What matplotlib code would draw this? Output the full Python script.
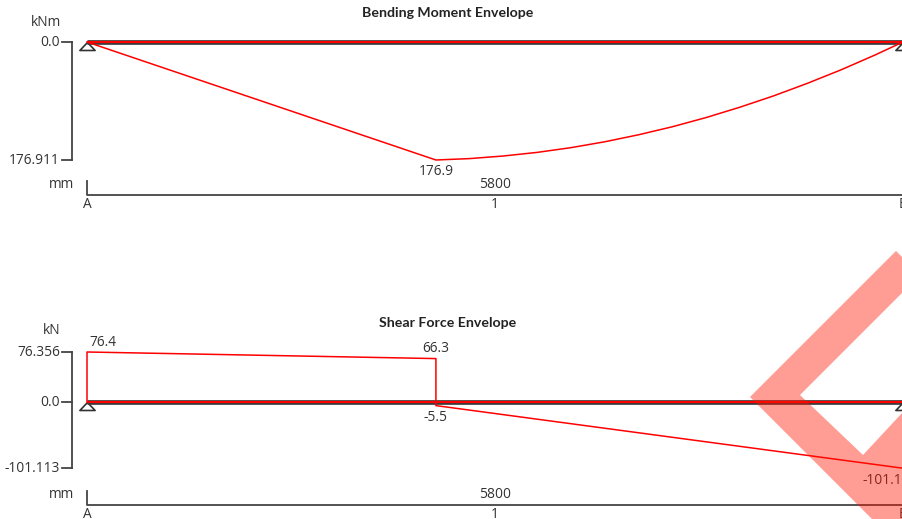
import matplotlib.pyplot as plt
import matplotlib.transforms as mtransforms
from matplotlib.patches import Polygon

# beam / member data (mm)
span = 5800
node_labels = ["A", "B"]
member_label = "1"

# bending moment envelope (kNm, sagging drawn downwards)
moment_x = [0, 2480, 2720, 2960, 3200, 3440, 3680, 3920, 4160, 4400, 4640, 4880, 5120, 5360, 5600, 5800]
moment_max = [0, 176.911, 174.8, 170.9, 165.5, 158.4, 149.6, 139.1, 127.1, 113.3, 97.8, 80.8, 62.0, 41.7, 19.6, 0]
moment_ticks = [0.0, 176.911]

# shear force envelope (kN)
shear_x = [0, 0, 2480, 2480, 5800]
shear_max = [0, 76.356, 66.3, -5.5, -101.113]
shear_ticks = [76.356, 0.0, -101.113]

W, H = 903, 519
fig = plt.figure(figsize=(W / 100, H / 100), dpi=100)
plt.rcParams['font.family'] = ['Open Sans', 'DejaVu Sans']

# pixel coords, origin top-left
pxT = mtransforms.Affine2D().scale(1 / W, -1 / H).translate(0, 1) + fig.transFigure

TXT = '#333333'
AX = '#444444'
RED = '#ff0000'
X0, X1 = 87, 903
FS = 9.9


def make_axes(top, bottom, zero_px, ref_val, ref_px):
    ax = fig.add_axes([0, 1 - bottom / H, 1, (bottom - top) / H])
    ax.set_axis_off()
    k = (ref_px - zero_px) / ref_val  # pixels per unit (sign gives direction)
    ax.set_xlim(-X0 * span / (X1 - X0), (W - X0) * span / (X1 - X0))
    ax.set_ylim((bottom - zero_px) / k, (top - zero_px) / k)
    return ax


def furniture(ax, ticks, unit, unit_y, title, title_y, dim_y):
    bt = mtransforms.blended_transform_factory(pxT, ax.transData)
    # bracket style value axis
    ax.plot([72, 72], [min(ticks), max(ticks)], color=AX, lw=1.3, transform=bt, clip_on=False)
    for t in ticks:
        ax.plot([62, 72], [t, t], color=AX, lw=1.3, transform=bt, clip_on=False)
        ax.text(60, t, str(t), ha='right', va='center', fontsize=FS, color=TXT, transform=bt)
    fig.text(61, unit_y, unit, ha='right', va='center', fontsize=FS, color=TXT, transform=pxT)
    fig.text(448, title_y, title, ha='center', va='center', fontsize=10.2, fontweight='bold',
             color='#222222', transform=pxT, family=['Lato', 'DejaVu Sans'])

    # beam line with supports
    ax.plot([0, span], [0, 0], color='#3c3c3c', lw=3.4, solid_capstyle='butt', zorder=3)
    tri = [(0, 0), (-1, -1.05), (1, -1.05), (0, 0)]
    ax.plot([0, span], [0, 0], ls='none', marker=tri, ms=11.5, mfc='white', mec='#333333',
            mew=1.2, zorder=2, clip_on=False)

    # dimension line
    dt = mtransforms.blended_transform_factory(ax.transData, pxT)
    ax.plot([0, 0, span], [dim_y - 14, dim_y, dim_y], color=AX, lw=1.3, transform=dt, clip_on=False)
    ax.text(span / 2, dim_y - 11, str(span), ha='center', va='center', fontsize=FS, color=TXT, transform=dt)
    fig.text(74, dim_y - 10, 'mm', ha='right', va='center', fontsize=FS, color=TXT, transform=pxT)
    for xv, lab in zip([0, span], node_labels):
        ax.text(xv, dim_y + 9, lab, ha='center', va='center', fontsize=FS, color=TXT, transform=dt)
    ax.text(span / 2, dim_y + 9, member_label, ha='center', va='center', fontsize=FS, color=TXT, transform=dt)


def label(ax, x, y, dy, ha='center', dx=0):
    ax.annotate(f"{y:.1f}", (x, y), xytext=(dx * 0.72, -dy * 0.72), textcoords='offset points',
                ha=ha, va='center', fontsize=FS, color=TXT, zorder=6)


# --- bending moment
ax1 = make_axes(0, 260, 42, moment_ticks[1], 160)
furniture(ax1, moment_ticks, 'kNm', 22, 'Bending Moment Envelope', 13, 195)
ax1.plot([0, span], [0, 0], color=RED, lw=1.5, zorder=4, solid_capstyle='butt')
ax1.plot(moment_x, moment_max, color=RED, lw=1.1, zorder=4)
i = moment_max.index(max(moment_max))
label(ax1, moment_x[i], moment_max[i], 11.5)

# --- shear force
ax2 = make_axes(260, 519, 402, shear_ticks[0], 352)
furniture(ax2, shear_ticks, 'kN', 330, 'Shear Force Envelope', 323, 505)
ax2.plot([0, span], [0, 0], color=RED, lw=1.5, zorder=4, solid_capstyle='butt')
ax2.plot(shear_x, shear_max, color=RED, lw=1.1, zorder=4)
label(ax2, shear_x[1], shear_max[1], -10, ha='left', dx=2)
label(ax2, shear_x[2], shear_max[2], -10)
label(ax2, shear_x[3], shear_max[3], 12)
label(ax2, shear_x[4], shear_max[4], 12.5, ha='right', dx=-1)

# watermark stamp over the lower right corner
stamp = [(896, 251), (750, 397), (872, 519), (890, 540), (1000, 540), (1000, 383),
         (930, 383), (863, 455), (800, 395), (920, 275)]
fig.add_artist(Polygon(stamp, closed=True, transform=pxT, facecolor='#ff1400',
                       edgecolor='none', alpha=0.42, zorder=10))

fig.savefig('out.png', dpi=100)
